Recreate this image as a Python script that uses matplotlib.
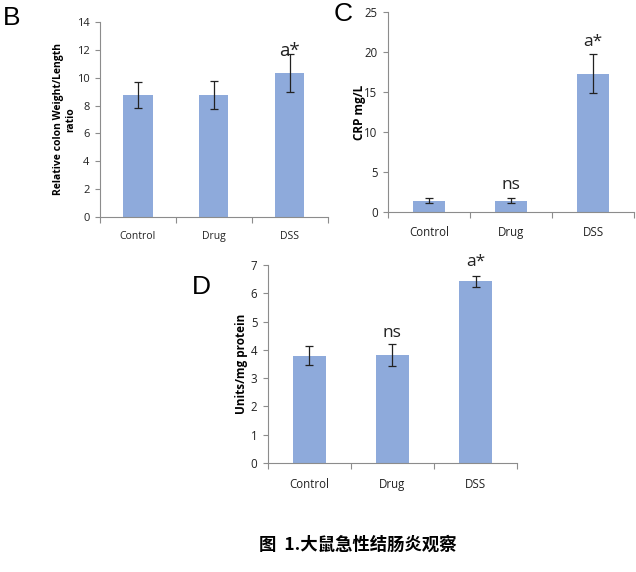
import matplotlib
matplotlib.use("Agg")
import matplotlib.pyplot as plt
import numpy as np

groups = ["Control", "Drug", "DSS"]

# panel B: relative colon weight/length ratio
b_vals = [8.75, 8.75, 10.35]
b_err = [0.92, 1.0, 1.35]
# panel C: CRP mg/L
c_vals = [1.45, 1.45, 17.3]
c_err = [0.32, 0.3, 2.4]
# panel D: units/mg protein
d_vals = [3.8, 3.82, 6.42]
d_err = [0.34, 0.38, 0.21]

bar_color = "#8eaadb"
axis_color = "#8c8c8c"

plt.rcParams["font.family"] = ["Open Sans", "DejaVu Sans"]

fig = plt.figure(figsize=(6.36, 5.72), dpi=100)


def panel(rect, vals, errs, ymax, ystep, ylabel, width, notes, letter, letter_pos,
          fs=7.5, yfs=8.3, lfs=7.5, pad=9, nfs=12.5, lpad=3):
    ax = fig.add_axes(rect)
    x = np.arange(len(groups))
    ax.bar(x, vals, width=width, color=bar_color, zorder=2)
    ax.errorbar(x, vals, yerr=errs, fmt="none", ecolor="#222222",
                elinewidth=0.9, capsize=3, capthick=0.9, zorder=3)
    ax.set_xlim(-0.5, len(groups) - 0.5)
    ax.set_ylim(0, ymax)
    ax.set_yticks(np.arange(0, ymax + 0.01, ystep))
    ax.set_xticks(x)
    ax.set_xticklabels(groups)
    # category boundary ticks, Excel style
    ax.set_xticks(np.arange(-0.5, len(groups)), minor=True)
    ax.tick_params(axis="x", which="major", length=0, pad=pad, labelsize=fs)
    ax.tick_params(axis="x", which="minor", length=4, color=axis_color, width=0.8)
    ax.tick_params(axis="y", length=3.5, color=axis_color, width=0.8, pad=4,
                   labelsize=yfs)
    ax.tick_params(labelcolor="#222222")
    for s in ["top", "right"]:
        ax.spines[s].set_visible(False)
    for s in ["left", "bottom"]:
        ax.spines[s].set_color(axis_color)
        ax.spines[s].set_linewidth(0.8)
    ax.set_ylabel(ylabel, fontsize=lfs, fontweight="bold", labelpad=lpad)
    for i, (txt, y) in notes.items():
        ax.text(i, y, txt, ha="center", va="bottom", fontsize=nfs, color="#222222")
    fig.text(letter_pos[0], letter_pos[1], letter, fontsize=19,
             family="Liberation Sans", va="center", ha="left")
    return ax


panel([0.157, 0.6206, 0.358, 0.341], b_vals, b_err, 14, 2,
      "Relative colon Weight/Length\nratio", 0.39,
      {2: ("a*", 11.3)}, "B", (0.005, 0.968), fs=7.5, yfs=8, lfs=7.5, pad=10,
      nfs=13.5, lpad=0)
panel([0.610, 0.629, 0.387, 0.350], c_vals, c_err, 25, 5,
      "CRP mg/L", 0.40,
      {1: ("ns", 2.4), 2: ("a*", 20.2)}, "C", (0.525, 0.975), fs=8.3, yfs=8.3,
      lfs=8.5, pad=10, lpad=-1)
panel([0.421, 0.1906, 0.392, 0.346], d_vals, d_err, 7, 1,
      "Units/mg protein", 0.40,
      {1: ("ns", 4.3), 2: ("a*", 6.83)}, "D", (0.302, 0.498), fs=8.3, yfs=8.3,
      lfs=8.5, pad=11, lpad=2)

fig.text(0.563, 0.047, "图  1.大鼠急性结肠炎观察", ha="center", va="center",
         fontsize=12.5, fontweight="bold",
         family=["Noto Sans CJK SC", "DejaVu Sans"])

fig.savefig("out.png", dpi=100)
